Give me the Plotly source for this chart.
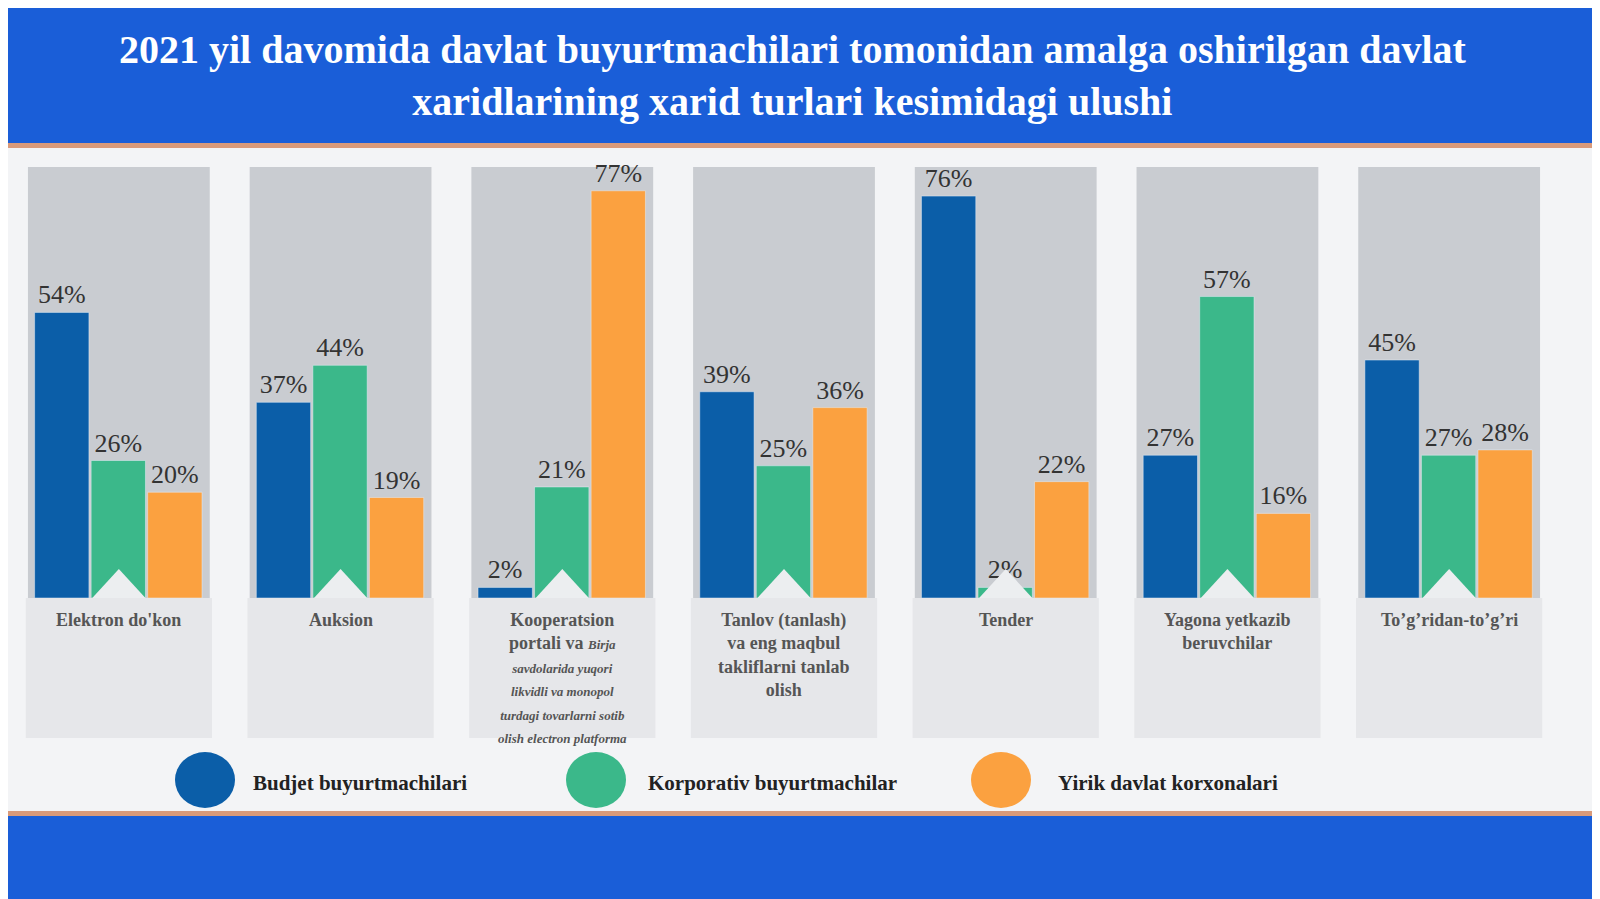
import plotly.graph_objects as go

categories = ["Elektron do'kon", "Auksion", "Kooperatsion", "Tanlov", "Tender", "Yagona", "To'g'ridan"]
cat_labels = [
    "Elektron do'kon",
    "Auksion",
    "Kooperatsion<br>portali va <i><span style='font-size:13px'>Birja</span></i><br><i><span style='font-size:13px'>savdolarida yuqori<br>likvidli va monopol<br>turdagi tovarlarni sotib<br>olish electron platforma</span></i>",
    "Tanlov (tanlash)<br>va eng maqbul<br>takliflarni tanlab<br>olish",
    "Tender",
    "Yagona yetkazib<br>beruvchilar",
    "To’g’ridan-to’g’ri",
]
series_names = ["Budjet buyurtmachilari", "Korporativ buyurtmachilar", "Yirik davlat korxonalari"]
budjet = [54, 37, 2, 39, 76, 27, 45]
korporativ = [26, 44, 21, 25, 2, 57, 27]
yirik = [20, 19, 77, 36, 22, 16, 28]
colors = ["#0b5ea8", "#3bb88a", "#fba140"]

H = 899.0
def py(px):
    return (H - px) / H

xs = list(range(len(categories)))
fig = go.Figure()
offsets = [-0.38, -0.125, 0.13]
for vals, name, col, off in zip([budjet, korporativ, yirik], series_names, colors, offsets):
    fig.add_trace(go.Bar(
        x=xs, y=vals, name=name, marker_color=col, width=0.245, offset=off,
        text=[f"{v}%" for v in vals], textposition="outside",
        textfont=dict(family="Liberation Serif", size=26, color="#333"),
        cliponaxis=False, showlegend=False))

shapes = []
shapes.append(dict(type="rect", xref="paper", yref="paper", x0=0, x1=1, y0=py(135), y1=1, fillcolor="#1a5ed8", line_width=0, layer="below"))
shapes.append(dict(type="rect", xref="paper", yref="paper", x0=0, x1=1, y0=py(140), y1=py(135), fillcolor="#d99a7a", line_width=0, layer="below"))
shapes.append(dict(type="rect", xref="paper", yref="paper", x0=0, x1=1, y0=0, y1=py(808), fillcolor="#1a5ed8", line_width=0, layer="below"))
shapes.append(dict(type="rect", xref="paper", yref="paper", x0=0, x1=1, y0=py(808), y1=py(803), fillcolor="#d99a7a", line_width=0, layer="below"))
for i in xs:
    shapes.append(dict(type="rect", xref="x", yref="y", x0=i - 0.41, x1=i + 0.41, y0=0, y1=81.5,
                       fillcolor="#c9ccd1", line_width=0, layer="below"))
    shapes.append(dict(type="rect", xref="x", yref="paper", x0=i - 0.42, x1=i + 0.42, y0=py(730), y1=py(590),
                       fillcolor="#e6e7ea", line_width=0, layer="below"))
    shapes.append(dict(type="path", xref="x", yref="y",
                       path=f"M {i-0.12} 0 L {i} 5.5 L {i+0.12} 0 Z", fillcolor="#eceef0", line_width=0))

title = ("<b>2021 yil davomida davlat buyurtmachilari tomonidan amalga oshirilgan davlat</b><br>"
         "<b>xaridlarining xarid turlari kesimidagi ulushi</b>")
annotations = [dict(text=title, xref="paper", yref="paper", x=0.49, y=py(68), yanchor="middle",
                    showarrow=False, font=dict(family="Liberation Serif", size=40, color="white"), align="center")]
for i, lab in zip(xs, cat_labels):
    annotations.append(dict(text=f"<b>{lab}</b>", x=i, xref="x", yref="paper", y=py(600), yanchor="top",
                            showarrow=False, align="center",
                            font=dict(family="Liberation Serif", size=18, color="#555")))
leg_x = [197, 588, 993]
leg_tx = [243, 638, 1048]
for name, col, cx, tx in zip(series_names, colors, leg_x, leg_tx):
    shapes.append(dict(type="circle", xref="paper", yref="paper",
                       x0=(cx - 30) / 1600, x1=(cx + 30) / 1600, y0=py(800), y1=py(744), fillcolor=col, line_width=0))
    annotations.append(dict(text=f"<b>{name}</b>", xref="paper", yref="paper", x=tx / 1600, y=py(775),
                            xanchor="left", yanchor="middle", showarrow=False,
                            font=dict(family="Liberation Serif", size=21, color="#222")))

fig.update_layout(
    width=1600, height=899, margin=dict(l=0, r=0, t=0, b=0),
    paper_bgcolor="#f3f4f6", plot_bgcolor="rgba(0,0,0,0)",
    shapes=shapes, annotations=annotations, barmode="overlay",
    xaxis=dict(domain=[0.0, 0.97], range=[-0.5, 6.5], visible=False, fixedrange=True),
    yaxis=dict(domain=[py(590), py(150)], range=[0, 83.2], visible=False, fixedrange=True),
)
fig.write_html("out.html")
